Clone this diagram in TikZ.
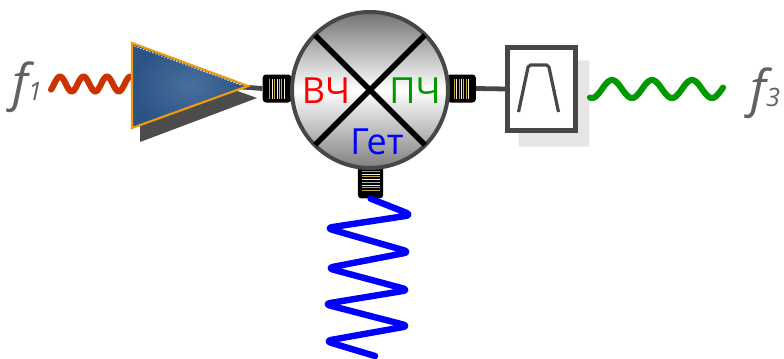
\documentclass[tikz,border=0pt]{standalone}
\usepackage{fontspec}
\setmainfont{Open Sans}
\usetikzlibrary{calc,positioning}
\definecolor{ampblue}{HTML}{2F5B90}
\definecolor{ampedge}{HTML}{F09A10}
\definecolor{rfred}{HTML}{CC3300}
\definecolor{ifgreen}{HTML}{009A00}
\definecolor{logold}{HTML}{C9A236}
\definecolor{lopale}{HTML}{F4EFD6}
\definecolor{framegray}{HTML}{474747}
\tikzset{
  port body/.style={rectangle,rounded corners=2.5pt,fill=black,draw=none,
    inner sep=0pt},
  port stripe/.style={line width=0.7pt},
  feed line/.style={draw=framegray,line width=3.6pt},
  mixer body/.style={circle,draw=framegray,line width=3pt,minimum size=117pt,
    inner sep=0pt,top color=black!55,bottom color=black!50,middle color=white},
  mixer cross/.style={line width=4pt,black},
  mixer label/.style={font=\fontsize{27}{30}\selectfont,anchor=base,
    inner sep=0pt},
  filter box/.style={rectangle,draw=framegray,line width=2.4pt,fill=white,
    minimum width=50pt,minimum height=61.5pt,inner sep=0pt},
  wave/.style={line width=4.6pt,line cap=round,line join=round},
  freq label/.style={font=\fontsize{38}{40}\selectfont\itshape,
    text=black!62,anchor=base west,inner sep=0pt}
}

\begin{document}
\begin{tikzpicture}[x=0.75pt,y=-0.75pt]
  \useasboundingbox (0,0) rectangle (784,358);

  % input signal and amplifier
  \node[freq label] (fone) at (12,100)
    {f{\fontsize{19}{20}\selectfont 1}};
  \draw[wave,rfred] plot[domain=51:133,samples=70,smooth]
    (\x,{84-7.5*cos(15.32*(\x-60))});
  \coordinate (ampup) at (132,43);
  \coordinate (ampdown) at (132,128);
  \coordinate (amptip) at (248,86);
  \fill[black!70] ($(ampup)+(8,13)$) -- ($(ampdown)+(8,14)$)
    -- ($(amptip)+(9,12)$) -- cycle;

  % mixer with its three ports
  \node[port body,minimum width=21.5pt,minimum height=21pt] (rfport)
    at (277,88.5) {};
  \node[port body,minimum width=21.5pt,minimum height=21pt] (ifport)
    at (461.5,88.5) {};
  \node[port body,minimum width=19pt,minimum height=26pt] (loport)
    at (370.5,181) {};
  \draw[feed line] ($(amptip)+(-6,1)$) -- (rfport.west);
  \foreach \d/\col in {-7.2/logold,-4.8/lopale,-2.4/logold,0/lopale,
      2.4/black!30,4.8/logold,7.2/lopale} {
    \draw[port stripe,\col] ($(rfport.center)+(\d,-10)$) -- ++(0,20);
    \draw[port stripe,\col] ($(ifport.center)+(\d,-10)$) -- ++(0,20);
  }
  \foreach \d/\col in {-9.5/logold,-6.8/lopale,-4.1/logold,-1.4/lopale,
      1.3/black!30,4/lopale,6.7/black!35,9.4/logold} {
    \draw[port stripe,\col] ($(loport.center)+(-9,\d)$) -- ++(18,0);
  }
  \node[mixer body] (mixer) at (370,90) {};
  \draw[mixer cross] ($(mixer.center)!0.97!(mixer.135)$)
    -- ($(mixer.center)!0.97!(mixer.-45)$);
  \draw[mixer cross] ($(mixer.center)!0.97!(mixer.45)$)
    -- ($(mixer.center)!0.97!(mixer.-135)$);
  \node[mixer label,text=red] (rflabel) at (326,103) {ВЧ};
  \node[mixer label,text=ifgreen] (iflabel) at (415,103) {ПЧ};
  \node[mixer label,text=blue] (lolabel) at (377,154) {Гет};

  \shade[inner color=ampblue!88!white,outer color=ampblue!92!black,
    draw=ampedge,line width=1.6pt,line join=miter]
    (ampup) -- (amptip) -- (ampdown) -- cycle;
  \draw[white!80!ampblue,line width=0.6pt,dash pattern=on 1.2pt off 1.2pt]
    ($(ampup)+(2,3)$) -- ($(amptip)+(-7,-1)$);

  % local oscillator
  \draw[wave,blue,line width=4.8pt,rounded corners=5pt] (loport.south)
    -- (412,215) -- (326,228) -- (410,252) -- (327,268) -- (409,290)
    -- (324,304) -- (409,326) -- (325,341) -- (375,356);

  % filter and output
  \node[filter box] (filter) at (541.5,89) {};
  \fill[black!10] ($(filter.north east)+(0,14)$) -- ($(filter.north east)+(13,14)$)
    -- ($(filter.south east)+(13,15)$) -- ($(filter.south west)+(12,15)$)
    -- ($(filter.south west)+(12,0)$) -- (filter.south east) -- cycle;
  \draw[filter box,fill=none] (filter.north west) rectangle (filter.south east);
  \draw[feed line] (ifport.east) -- (filter.west);
  \draw[framegray,line width=2.4pt,rounded corners=1.5pt]
    ($(filter.center)+(-23,23)$) -- ($(filter.center)+(-13,-24)$)
    -- ($(filter.center)+(7,-24)$) -- ($(filter.center)+(17,23)$);
  \draw[wave,ifgreen] plot[domain=590:723,samples=90,smooth]
    (\x,{89-9*cos(9*(\x-612))});
  \node[freq label] (fthree) at (750,106)
    {f{\fontsize{19}{20}\selectfont 3}};
\end{tikzpicture}
\end{document}
